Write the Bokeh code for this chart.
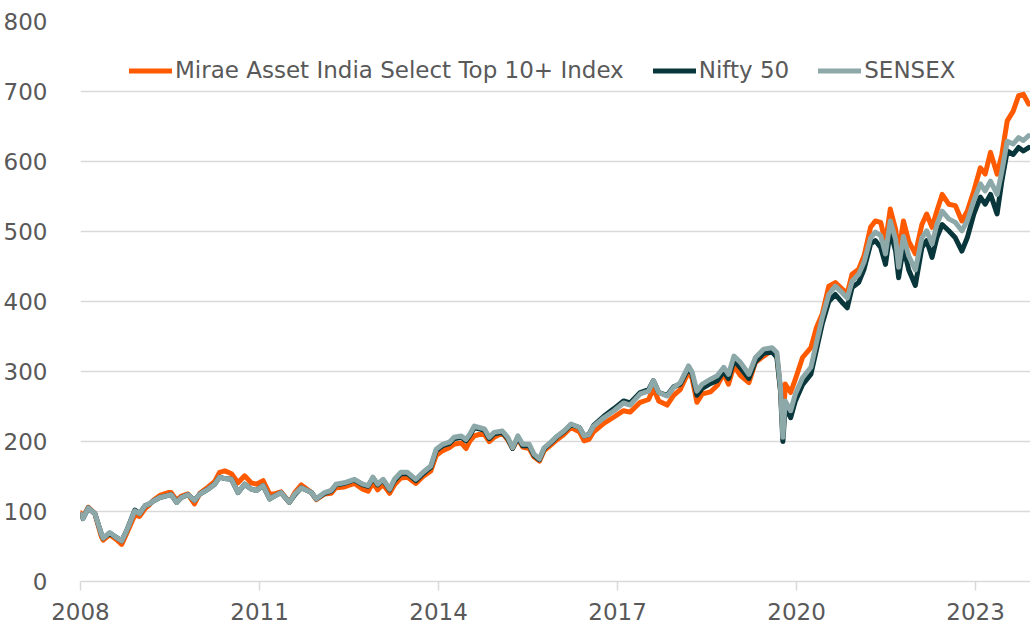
from bokeh.plotting import figure
from bokeh.models import Range1d, FixedTicker, Legend, LegendItem, ColumnDataSource
from bokeh.embed import file_html
from bokeh.resources import INLINE

dates = [2008.00, 2008.04, 2008.13, 2008.24, 2008.35, 2008.38, 2008.49, 2008.60, 2008.69, 2008.77,
         2008.91, 2008.99, 2009.08, 2009.16, 2009.22, 2009.33, 2009.47, 2009.52, 2009.61, 2009.69,
         2009.80, 2009.91, 2010.00, 2010.14, 2010.25, 2010.33, 2010.42, 2010.53, 2010.64, 2010.75,
         2010.86, 2010.95, 2011.06, 2011.17, 2011.25, 2011.36, 2011.50, 2011.59, 2011.70, 2011.87,
         2011.95, 2012.09, 2012.20, 2012.28, 2012.42, 2012.59, 2012.73, 2012.82, 2012.90, 2012.98,
         2013.07, 2013.18, 2013.26, 2013.37, 2013.48, 2013.62, 2013.74, 2013.87, 2013.96, 2014.07,
         2014.18, 2014.26, 2014.38, 2014.46, 2014.52, 2014.60, 2014.68, 2014.77, 2014.85, 2014.93,
         2015.07, 2015.16, 2015.24, 2015.33, 2015.41, 2015.52, 2015.60, 2015.69, 2015.77, 2015.88,
         2015.99, 2016.10, 2016.22, 2016.36, 2016.44, 2016.52, 2016.60, 2016.77, 2016.94, 2017.10,
         2017.21, 2017.38, 2017.52, 2017.60, 2017.69, 2017.83, 2017.94, 2018.05, 2018.19, 2018.25,
         2018.33, 2018.42, 2018.56, 2018.67, 2018.78, 2018.86, 2018.95, 2019.06, 2019.20, 2019.31,
         2019.45, 2019.59, 2019.67, 2019.73, 2019.77, 2019.81, 2019.90, 2019.98, 2020.10, 2020.24,
         2020.33, 2020.43, 2020.54, 2020.65, 2020.76, 2020.85, 2020.93, 2021.04, 2021.13, 2021.24,
         2021.32, 2021.41, 2021.49, 2021.57, 2021.66, 2021.71, 2021.79, 2021.88, 2021.99, 2022.10,
         2022.18, 2022.27, 2022.35, 2022.44, 2022.55, 2022.66, 2022.77, 2022.86, 2022.97, 2023.08,
         2023.16, 2023.25, 2023.36, 2023.44, 2023.53, 2023.63, 2023.72, 2023.80, 2023.89]

sensex = [96, 90, 105, 97, 68, 62, 70, 63, 58, 72,
          101, 97, 108, 111, 115, 120, 123, 124, 113, 120,
          124, 116, 125, 132, 139, 149, 147, 146, 127, 139,
          132, 130, 137, 118, 122, 127, 113, 125, 134, 127,
          118, 127, 130, 139, 141, 146, 139, 137, 149, 139,
          146, 132, 146, 156, 156, 146, 156, 165, 189, 196,
          199, 206, 208, 203, 210, 222, 220, 218, 206, 213,
          215, 206, 191, 208, 196, 196, 182, 175, 191, 199,
          208, 215, 225, 220, 208, 210, 222, 234, 244, 255,
          252, 268, 272, 287, 270, 265, 277, 284, 308, 299,
          272, 282, 289, 294, 306, 296, 322, 313, 296, 320,
          332, 334, 327, 277, 206, 258, 244, 268, 291, 306,
          340, 377, 410, 422, 413, 405, 429, 439, 456, 491,
          499, 494, 468, 515, 489, 449, 493, 465, 445, 491,
          501, 482, 510, 529, 518, 513, 501, 515, 544, 568,
          558, 572, 553, 586, 629, 625, 634, 630, 637]

mirae = [98, 92, 106, 97, 64, 59, 67, 60, 53, 68,
         95, 93, 104, 110, 116, 123, 127, 127, 116, 122,
         125, 111, 126, 135, 143, 156, 158, 154, 141, 151,
         141, 139, 144, 125, 125, 128, 113, 127, 138, 127,
         117, 125, 126, 134, 135, 140, 132, 129, 141, 131,
         139, 126, 138, 148, 149, 140, 150, 158, 180, 187,
         191, 196, 198, 190, 200, 208, 210, 210, 200, 206,
         212, 202, 190, 204, 192, 190, 178, 172, 187, 195,
         203, 210, 220, 214, 201, 203, 214, 226, 235, 244,
         242, 256, 260, 276, 258, 252, 266, 274, 300, 290,
         256, 268, 271, 280, 297, 282, 308, 294, 284, 313,
         322, 330, 322, 275, 215, 282, 270, 289, 320, 334,
         362, 382, 422, 427, 418, 412, 439, 446, 465, 506,
         515, 513, 484, 532, 503, 468, 515, 486, 468, 510,
         525, 506, 529, 553, 539, 537, 515, 529, 558, 591,
         582, 613, 582, 610, 658, 672, 694, 696, 682]

nifty = [95, 90, 105, 97, 68, 62, 69, 63, 58, 72,
         102, 97, 108, 111, 115, 120, 123, 124, 113, 120,
         124, 116, 125, 132, 139, 149, 147, 146, 127, 139,
         132, 130, 137, 118, 122, 127, 113, 124, 134, 127,
         118, 126, 129, 138, 140, 145, 138, 136, 148, 138,
         145, 131, 144, 154, 154, 144, 154, 163, 187, 194,
         197, 204, 206, 201, 208, 220, 218, 216, 204, 211,
         213, 204, 190, 206, 194, 194, 180, 174, 190, 198,
         207, 214, 224, 220, 208, 210, 223, 236, 247, 258,
         255, 270, 274, 287, 270, 266, 278, 282, 305, 296,
         266, 276, 283, 287, 300, 290, 316, 305, 290, 314,
         326, 328, 320, 272, 200, 250, 234, 258, 281, 296,
         330, 368, 400, 410, 399, 391, 420, 427, 446, 482,
         487, 477, 453, 501, 472, 434, 478, 445, 423, 477,
         487, 463, 491, 510, 501, 491, 472, 491, 525, 549,
         539, 553, 525, 572, 615, 610, 620, 615, 620]

series_names = ["Mirae Asset India Select Top 10+ Index", "Nifty 50", "SENSEX"]
series_colors = ["#FF5A00", "#08363A", "#8DA8A8"]
year_ticks = [2008, 2011, 2014, 2017, 2020, 2023]
year_labels = ["2008", "2011", "2014", "2017", "2020", "2023"]
y_ticks = [0, 100, 200, 300, 400, 500, 600, 700, 800]

src = ColumnDataSource(data=dict(x=dates, m=mirae, n=nifty, s=sensex))

FONT = "DejaVu Sans"
TXT = "#595959"
GRID = "#D9D9D9"

p = figure(width=1030, height=630, output_backend="svg", toolbar_location=None,
           x_range=Range1d(2008.0, 2023.92), y_range=Range1d(0, 800),
           min_border_left=79, min_border_right=0, min_border_top=21, min_border_bottom=49)
p.outline_line_color = None
p.xgrid.grid_line_color = None
p.ygrid.grid_line_color = GRID
p.ygrid.grid_line_width = 1.5
p.ygrid.ticker = FixedTicker(ticks=y_ticks)

renderers = []
for col, color in zip(["m", "n", "s"], series_colors):
    r = p.line("x", col, source=src, line_color=color, line_width=5,
               line_join="round", line_cap="round")
    renderers.append(r)

xa = p.xaxis[0]
xa.ticker = FixedTicker(ticks=year_ticks)
xa.major_label_overrides = {t: l for t, l in zip(year_ticks, year_labels)}
xa.axis_line_color = GRID
xa.axis_line_width = 1.5
xa.major_tick_line_color = GRID
xa.major_tick_line_width = 1.5
xa.major_tick_out = 9
xa.major_tick_in = 0
xa.minor_tick_line_color = None
xa.major_label_standoff = 12
xa.major_label_text_font = FONT
xa.major_label_text_font_size = "23px"
xa.major_label_text_color = TXT

ya = p.yaxis[0]
ya.ticker = FixedTicker(ticks=y_ticks)
ya.axis_line_color = None
ya.major_tick_line_color = None
ya.minor_tick_line_color = None
ya.major_label_standoff = 27
ya.major_label_text_font = FONT
ya.major_label_text_font_size = "23px"
ya.major_label_text_color = TXT

legend = Legend(items=[LegendItem(label=n, renderers=[r]) for n, r in zip(series_names, renderers)],
                orientation="horizontal", location=(49, 498),
                glyph_width=43, glyph_height=25, label_height=25, label_standoff=3,
                spacing=29, padding=0, margin=0,
                border_line_color=None, background_fill_alpha=0,
                label_text_font=FONT, label_text_font_size="23px", label_text_color=TXT)
p.add_layout(legend, "center")

open("out.html", "w").write(file_html(p, INLINE))
